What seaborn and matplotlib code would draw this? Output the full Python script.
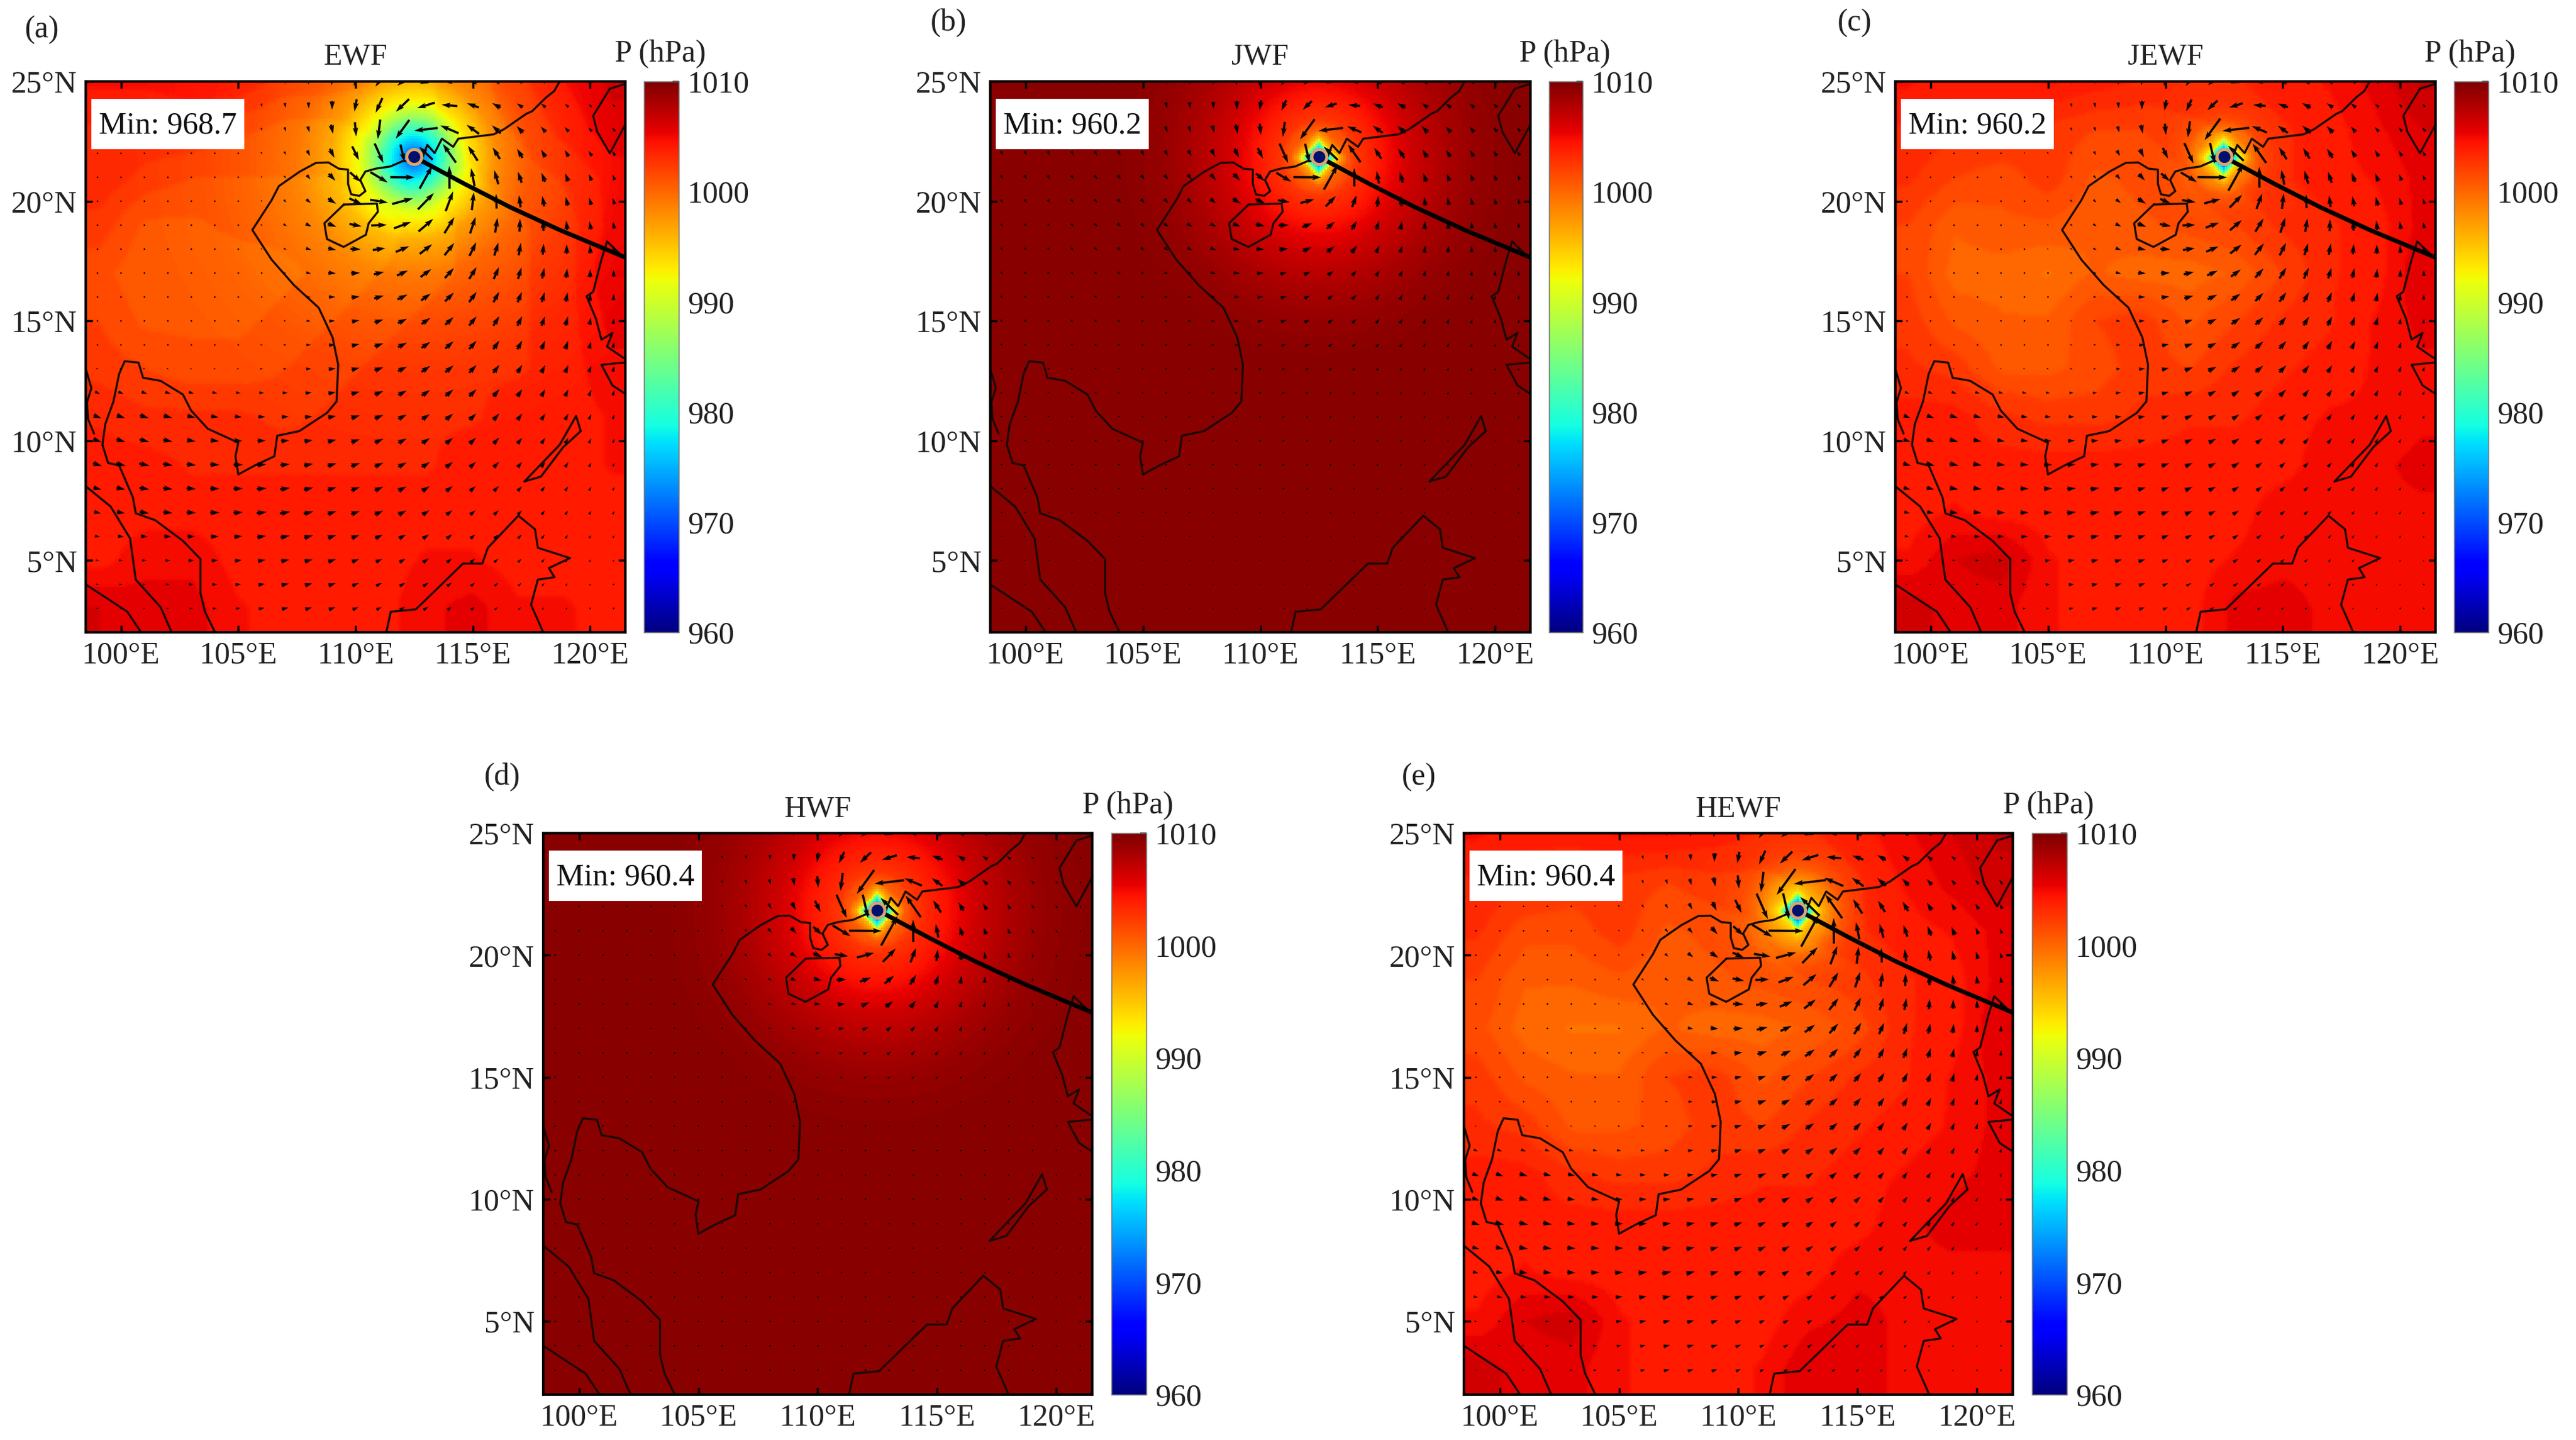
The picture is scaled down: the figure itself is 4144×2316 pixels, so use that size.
import numpy as np
import pandas as pd
import matplotlib
matplotlib.use("Agg")
import matplotlib.pyplot as plt
from matplotlib.patches import Rectangle
import seaborn as sns

# ---------------------------------------------------------------- data
PANELS = ["EWF", "JWF", "JEWF", "HWF", "HEWF"]
LETTERS = ["(a)", "(b)", "(c)", "(d)", "(e)"]
MINS = ["968.7", "960.2", "960.2", "960.4", "960.4"]
LON_TICKS = [100, 105, 110, 115, 120]
LAT_TICKS = [5, 10, 15, 20, 25]
CBAR_TICKS = [960, 970, 980, 990, 1000, 1010]
COARSE_LON = [99, 101, 103, 105, 107, 109, 111, 113, 115, 117, 119, 121]
COARSE_LAT = [25, 23, 21, 19, 17, 15, 13, 11, 9, 7, 5, 3]
CENTER = (112.5, 21.85)

P_EWF = [
    [1004.5, 1004.5, 1005, 1005, 1004, 1004, 1003.5, 1003.5, 1004, 1005, 1006, 1007],
    [1003.5, 1003.5, 1003.5, 1003, 1002.5, 1002.5, 1003, 1003.5, 1004, 1004.5, 1005.5, 1006.5],
    [1003.5, 1002.5, 1002, 1002, 1002, 1002, 1002.5, 1003, 1003.5, 1004, 1004.5, 1005.5],
    [1002.5, 1001, 1001, 1001.5, 1001.5, 1001.5, 1001.5, 1002.5, 1003, 1003.5, 1004, 1005.5],
    [1001.5, 1000.5, 1000.5, 1000.5, 1001, 1001.5, 1002, 1002.5, 1003, 1003.5, 1004, 1006],
    [1002, 1001, 1001, 1001, 1001.5, 1002, 1002.5, 1003, 1003.5, 1003.5, 1004, 1005.5],
    [1002.5, 1002, 1001.5, 1001.5, 1002, 1002.5, 1003, 1003.5, 1003.5, 1003.5, 1004, 1005],
    [1003.5, 1003, 1003, 1003, 1002.5, 1003, 1003.5, 1003.5, 1003.5, 1004, 1004, 1004.5],
    [1004, 1004, 1003.5, 1003.5, 1003.5, 1003.5, 1003.5, 1003.5, 1004, 1004, 1004, 1004.5],
    [1004, 1004, 1004, 1004, 1004, 1004, 1004, 1004, 1004, 1004, 1004, 1004],
    [1004, 1005, 1005, 1004, 1004, 1004, 1004, 1004.5, 1004.5, 1004, 1004, 1004],
    [1006, 1005.5, 1005.5, 1004.5, 1004, 1004, 1004, 1005, 1005.5, 1004.5, 1004.5, 1004],
]
P_JWF = [[1009.3] * 10 + [1009.4, 1009.5] for _ in COARSE_LAT[:2]] + \
        [[1009.3] * 11 + [1009.4] for _ in COARSE_LAT[2:6]] + \
        [[1009.3] * 12 for _ in COARSE_LAT[6:]]
P_HWF = [[1009.4] * 12 for _ in COARSE_LAT]
P_JEWF = [
    [1004.5, 1004, 1004, 1004.5, 1004, 1003.5, 1003.5, 1003.5, 1004, 1004.5, 1005.5, 1007],
    [1003.5, 1003, 1003, 1002.5, 1002, 1002, 1002.5, 1003, 1003.5, 1004, 1005, 1006],
    [1003, 1002, 1001.5, 1002.5, 1001, 1001.5, 1002, 1003, 1003.5, 1004, 1004.5, 1005.5],
    [1002, 1000.5, 1001, 1001, 1000.5, 1001, 1001.5, 1002, 1003, 1003.5, 1004, 1005.5],
    [1002, 1000, 1000, 999.5, 1000.5, 1000, 1000, 1000.5, 1002, 1003.5, 1004, 1006],
    [1002.5, 1001, 1000.5, 1000.5, 1002, 1002.5, 1001, 1002, 1003, 1003.5, 1004.5, 1005.5],
    [1003, 1002.5, 1001, 1001, 1001.5, 1002.5, 1002, 1003, 1003.5, 1004, 1004.5, 1005],
    [1004, 1004, 1003, 1002.5, 1002.5, 1003, 1003.5, 1003.5, 1004, 1004.5, 1004.5, 1005],
    [1004, 1004, 1004, 1004, 1004, 1004, 1004, 1004, 1004, 1005, 1005, 1005.5],
    [1004, 1004.5, 1004, 1004, 1004, 1004, 1004, 1004, 1005, 1005, 1005, 1005],
    [1004.5, 1006, 1006.5, 1004.5, 1004, 1004, 1004, 1004.5, 1005, 1005, 1004.5, 1004.5],
    [1006.5, 1005.5, 1005.5, 1004.5, 1004, 1004, 1004, 1005.5, 1005.5, 1005, 1004.5, 1004.5],
]
P_HEWF = [
    [1004.5, 1004, 1004, 1004.5, 1004.5, 1004, 1003.5, 1003.5, 1004, 1005, 1006, 1007],
    [1003.5, 1003, 1002.5, 1002.5, 1002, 1002.5, 1002.5, 1003, 1003.5, 1004.5, 1005.5, 1006.5],
    [1003, 1001.5, 1001.5, 1002.5, 1001, 1001.5, 1002, 1003, 1003.5, 1004, 1004.5, 1005.5],
    [1002, 1000.5, 1000.5, 1001, 1000.5, 1001, 1001.5, 1002, 1002.5, 1003.5, 1004, 1005.5],
    [1001.5, 1000, 999.5, 999.5, 1000.5, 1000, 1000, 1000.5, 1001.5, 1003.5, 1004, 1006],
    [1002.5, 1001, 1000.5, 1000.5, 1002, 1002.5, 1001, 1002, 1003, 1003.5, 1004.5, 1005.5],
    [1003, 1002.5, 1001, 1001, 1001.5, 1002.5, 1002, 1003, 1003.5, 1004, 1004.5, 1005.5],
    [1004, 1004, 1003, 1002.5, 1002.5, 1003, 1003.5, 1003.5, 1004, 1004.5, 1005, 1005.5],
    [1004, 1004, 1004, 1004, 1004, 1004, 1004, 1004, 1004, 1005, 1005.5, 1005.5],
    [1004, 1004.5, 1004, 1004, 1004, 1004, 1004, 1004, 1005, 1005, 1005, 1005],
    [1004.5, 1006, 1006.5, 1004.5, 1004, 1004, 1004, 1005, 1005.5, 1005, 1004.5, 1004.5],
    [1006.5, 1005.5, 1005.5, 1004.5, 1004, 1004, 1004.5, 1006, 1005.5, 1005, 1004.5, 1004.5],
]
PRESSURE = [P_EWF, P_JWF, P_JEWF, P_HWF, P_HEWF]

# radial pressure deficit around the storm (degrees, hPa)
R_EWF = [0, .5, 1.15, 1.75, 2.3, 3.5, 5, 7, 9, 12]
D_EWF = [34.3, 29, 23, 16, 11, 6, 3.2, 1.6, .6, 0]
R_JWF = [0, .3, .6, .68, .85, 1.2, 1.6, 2.2, 2.8, 4, 5.5, 7, 9]
D_JWF = [49.1, 37, 27, 22, 14, 9, 7, 6, 5, 3, 1.5, .5, 0]
R_JEWF = [0, .3, .6, .68, .85, 1.2, 1.6, 2.2, 3, 4]
D_JEWF = [42.8, 31, 22, 16, 9, 4, 1.5, .5, .1, 0]
R_HWF = [0, .3, .6, .68, .85, 1.2, 1.6, 2.2, 3, 4.2, 5.7, 7.2, 9.5]
D_HWF = [49, 37, 27, 22, 14, 9, 7, 6, 5, 3, 1.5, .5, 0]
R_HEWF = [0, .3, .6, .68, .85, 1.3, 1.8, 2.4, 3.2, 4.5]
D_HEWF = [42.6, 31, 22, 16, 9, 5, 2.5, 1, .3, 0]
DEFICIT_R = [R_EWF, R_JWF, R_JEWF, R_HWF, R_HEWF]
DEFICIT_D = [D_EWF, D_JWF, D_JEWF, D_HWF, D_HEWF]

# background wind arrow length (degrees on the map)
W_EWF = [
    [.1, .1, .15, .15, .2, .25, .3, .3, .25, .2, .15, .1],
    [.05, .05, .05, .1, .15, .2, .3, .35, .3, .3, .25, .2],
    [.03, .03, .05, .05, .1, .2, .3, .4, .4, .4, .35, .25],
    [.03, .03, .03, .05, .15, .3, .4, .5, .55, .5, .4, .3],
    [.03, .03, .05, .05, .1, .3, .4, .5, .55, .5, .4, .3],
    [.03, .03, .05, .05, .1, .25, .4, .45, .5, .45, .4, .25],
    [.1, .1, .1, .1, .15, .3, .4, .45, .45, .4, .35, .25],
    [.35, .4, .35, .3, .3, .35, .4, .4, .4, .35, .3, .2],
    [.4, .45, .4, .4, .4, .4, .4, .4, .35, .3, .25, .15],
    [.3, .4, .4, .4, .45, .4, .4, .35, .3, .25, .2, .15],
    [.15, .2, .25, .3, .35, .35, .3, .3, .25, .2, .15, .1],
    [.1, .1, .15, .2, .3, .3, .25, .25, .2, .15, .1, .05],
]
W_JWF = [
    [.2, .2, .2, .2, .2, .2, .2, .2, .2, .2, .2, .2],
    [.2, .2, .2, .2, .2, .2, .2, .2, .25, .25, .25, .2],
    [.2, .2, .2, .2, .2, .2, .2, .2, .25, .25, .25, .2],
    [.15, .15, .2, .2, .2, .2, .2, .2, .2, .25, .25, .2],
    [.15, .15, .15, .15, .15, .2, .2, .2, .2, .2, .2, .2],
    [.15, .15, .15, .15, .15, .15, .2, .2, .2, .2, .2, .15],
    [.12, .12, .12, .12, .12, .15, .15, .15, .15, .15, .15, .12],
    [.12, .12, .12, .12, .12, .12, .12, .12, .12, .12, .12, .1],
    [.12, .12, .12, .12, .12, .12, .12, .12, .12, .12, .1, .1],
    [.1, .1, .1, .1, .1, .1, .1, .1, .1, .1, .1, .1],
    [.08, .08, .08, .08, .08, .08, .08, .08, .08, .08, .08, .08],
    [.08, .08, .08, .08, .08, .08, .08, .08, .08, .08, .08, .08],
]
W_JEWF = [
    [.1, .1, .12, .12, .15, .2, .25, .25, .2, .2, .15, .1],
    [.05, .05, .05, .08, .1, .15, .25, .3, .25, .25, .2, .2],
    [.03, .03, .05, .05, .08, .15, .25, .3, .35, .35, .3, .2],
    [.03, .03, .03, .05, .1, .25, .3, .4, .45, .4, .35, .25],
    [.03, .03, .05, .05, .1, .25, .35, .4, .45, .4, .35, .25],
    [.03, .03, .05, .05, .1, .2, .3, .4, .4, .4, .35, .2],
    [.08, .08, .08, .1, .12, .25, .35, .4, .4, .35, .3, .2],
    [.3, .35, .3, .25, .25, .3, .35, .35, .35, .3, .25, .15],
    [.35, .4, .35, .35, .35, .35, .35, .35, .3, .25, .2, .12],
    [.25, .35, .35, .35, .4, .35, .35, .3, .25, .2, .15, .12],
    [.12, .15, .2, .25, .3, .3, .25, .25, .2, .15, .12, .08],
    [.08, .08, .12, .15, .25, .25, .2, .2, .15, .12, .08, .05],
]
W_HWF = [
    [.05, .05, .05, .05, .08, .1, .15, .2, .2, .15, .1, .08],
    [.03, .03, .03, .05, .08, .1, .15, .2, .2, .15, .12, .1],
    [.03, .03, .03, .03, .05, .1, .15, .2, .2, .15, .12, .08],
    [.03, .03, .03, .03, .05, .1, .15, .2, .2, .15, .1, .08],
    [.03, .03, .03, .03, .05, .08, .12, .15, .15, .12, .1, .08],
    [.03, .03, .03, .03, .03, .05, .08, .1, .1, .08, .08, .05],
    [.02, .02, .02, .02, .03, .03, .05, .06, .06, .05, .05, .03],
    [.02, .02, .02, .02, .02, .02, .03, .03, .03, .03, .03, .02],
    [.02, .02, .02, .02, .02, .02, .02, .02, .02, .02, .02, .02],
    [.02, .02, .02, .02, .02, .02, .02, .02, .02, .02, .02, .02],
    [.02, .02, .02, .02, .02, .02, .02, .02, .02, .02, .02, .02],
    [.02, .02, .02, .02, .02, .02, .02, .02, .02, .02, .02, .02],
]
WIND = [W_EWF, W_JWF, W_JEWF, W_HWF, W_JEWF]

WIND_R = [0, .5, 1, 1.5, 2, 3, 4, 5, 7, 10]
WIND_STORM_EWF = [0, .4, .7, .6, .5, .3, .15, .05, 0, 0]
WIND_STORM_JWF = [0, .6, 1.0, .7, .35, .25, .2, .1, .05, 0]
WIND_STORM_HWF = [0, .8, 1.2, .9, .5, .3, .2, .12, .05, 0]
WIND_STORM = [WIND_STORM_EWF, WIND_STORM_JWF, WIND_STORM_JWF, WIND_STORM_HWF, WIND_STORM_HWF]

# coastlines (lon, lat)
COAST_MAIN_LON = [118.7, 118.47, 118.12, 117.53, 117.28, 116.32, 115.88, 114.38, 114.16, 113.68, 113.37, 113.06,
    112.89, 112.8, 112.0, 111.48, 110.86, 110.42, 110.2, 110.42, 110.16, 109.81, 109.68, 109.68, 109.28, 108.84,
    108.31, 107.61, 106.73, 106.42, 105.6, 106.42, 107.37, 108.43, 109.02, 109.26, 109.19, 108.78, 107.6, 106.66,
    106.54, 105.71, 105.0, 104.88, 105.0, 103.7, 102.99, 102.64, 101.69, 100.94, 100.75, 100.16, 99.92, 99.68,
    99.33, 99.21, 99.45, 99.92, 100.51, 100.63, 101.46, 102.64, 103.39, 103.39, 103.58, 104.01]
COAST_MAIN_LAT = [25.0, 24.6, 24.33, 23.76, 23.65, 23.0, 22.79, 22.61, 22.27, 22.61, 22.01, 22.35,
    21.92, 21.71, 21.67, 21.45, 21.36, 21.24, 20.89, 20.42, 20.22, 20.29, 20.72, 21.32, 21.36, 21.62,
    21.6, 21.23, 20.63, 20.04, 18.8, 17.56, 16.5, 15.55, 14.31, 13.17, 11.64, 11.16, 10.4, 10.21,
    9.35, 8.97, 8.59, 9.35, 9.92, 10.5, 11.26, 11.93, 12.5, 12.63, 13.26, 13.32, 12.79, 11.64,
    10.69, 9.83, 9.07, 8.97, 7.63, 6.97, 6.68, 5.82, 5.06, 3.63, 2.86, 2.0]
SUMATRA_N_LON = [98.5, 99.56, 100.39, 100.63, 101.69, 102.16]
SUMATRA_N_LAT = [8.1, 7.25, 5.92, 4.2, 3.05, 2.0]
SUMATRA_S_LON = [98.5, 100.27, 100.86]
SUMATRA_S_LAT = [4.0, 2.86, 2.0]
BURMA_LON = [98.5, 98.74, 98.55, 98.6, 98.85]
BURMA_LAT = [13.0, 12.2, 11.6, 10.9, 10.3]
HAINAN_LON = [109.5, 110.91, 110.95, 110.56, 110.44, 109.49, 108.78, 108.67, 109.5]
HAINAN_LAT = [19.86, 19.9, 19.56, 19.08, 18.6, 18.09, 18.42, 19.08, 19.86]
BORNEO_LON = [111.31, 111.5, 112.57, 114.58, 115.4, 115.64, 116.94, 117.65, 117.77, 119.14, 118.24, 118.48, 117.77, 117.48, 118.0]
BORNEO_LAT = [2.0, 2.86, 2.96, 4.87, 4.87, 5.53, 6.87, 6.3, 5.53, 5.1, 4.68, 4.3, 4.2, 3.15, 2.0]
PALAWAN_LON = [117.2, 117.9, 118.85, 119.6, 119.4, 118.7, 117.2]
PALAWAN_LAT = [8.3, 8.5, 9.73, 10.4, 11.03, 9.83, 8.3]
LUZON_LON = [121.43, 120.72, 120.48, 120.13, 119.85, 120.25, 120.48, 120.95, 120.72, 121.43]
LUZON_LAT = [17.65, 18.32, 17.56, 16.22, 16.03, 15.08, 14.22, 14.5, 13.93, 13.45]
MINDORO_LON = [121.43, 120.48, 120.95, 121.43]
MINDORO_LAT = [13.26, 13.17, 12.31, 12.0]
TAIWAN_LON = [121.5, 120.84, 120.13, 120.3, 120.84, 121.5]
TAIWAN_LAT = [24.9, 24.7, 23.57, 22.9, 22.0, 23.2]
COASTS = [(COAST_MAIN_LON, COAST_MAIN_LAT), (SUMATRA_N_LON, SUMATRA_N_LAT), (SUMATRA_S_LON, SUMATRA_S_LAT),
          (BURMA_LON, BURMA_LAT), (HAINAN_LON, HAINAN_LAT), (BORNEO_LON, BORNEO_LAT), (PALAWAN_LON, PALAWAN_LAT),
          (LUZON_LON, LUZON_LAT), (MINDORO_LON, MINDORO_LAT), (TAIWAN_LON, TAIWAN_LAT)]
TRACK_LON = [112.5, 114.65, 116.59, 118.7, 121.5]
TRACK_LAT = [21.85, 20.72, 19.75, 18.8, 17.65]

# ---------------------------------------------------------------- layout
W, H = 4144, 2316
LON0, LON1, LAT0, LAT1 = 98.5, 121.5, 2.0, 25.0
# left, right, top, bottom, colorbar left, colorbar right, letter x, letter y
LAYOUT = [
    (138, 1006, 131, 1017, 1036, 1092, 67, 48),
    (1593, 2462, 131, 1017, 2492, 2546, 1526, 37),
    (3049, 3918, 131, 1017, 3948, 4003, 2983, 37),
    (874, 1757, 1340, 2243, 1788, 1844, 808, 1250),
    (2355, 3238, 1340, 2243, 3269, 3325, 2283, 1250),
]

sns.set_theme(style="white")
plt.rcParams["font.family"] = ["Liberation Serif", "DejaVu Serif"]
FS = 36


def rect(l, r, t, b):
    return [l / W, 1 - b / H, (r - l) / W, (b - t) / H]


def upsample(grid, lons, lats):
    g = np.asarray(grid, float)
    lat_inc = np.asarray(COARSE_LAT[::-1], float)
    by_lon = np.array([np.interp(lats, lat_inc, g[::-1, j]) for j in range(g.shape[1])])
    return np.array([np.interp(lons, COARSE_LON, by_lon[:, k]) for k in range(len(lats))])


def smooth(a, n=2):
    for _ in range(n):
        p = np.pad(a, 1, mode="edge")
        a = (p[:-2, 1:-1] + p[2:, 1:-1] + p[1:-1, :-2] + p[1:-1, 2:] + 2 * a) / 6
    return a


fig = plt.figure(figsize=(W / 100, H / 100), dpi=100, facecolor="white")
lons = np.arange(LON0, LON1 + 1e-6, 0.1)
lats = np.arange(LAT1, LAT0 - 1e-6, -0.1)
LON2, LAT2 = np.meshgrid(lons, lats)
q_lon, q_lat = np.meshgrid(np.arange(99, 122), np.arange(3, 26))

for i, name in enumerate(PANELS):
    l, r, t, b, cl, cr, lx, ly = LAYOUT[i]
    ax = fig.add_axes(rect(l, r, t, b))
    cax = fig.add_axes(rect(cl, cr, t, b))

    dx, dy = LON2 - CENTER[0], LAT2 - CENTER[1]
    r2 = np.hypot(dx, dy)
    if i == 0:
        dist = r2
    else:
        w = np.clip((r2 - 0.6) / 0.7, 0, 1)
        dist = w * r2 + (1 - w) * (np.abs(dx) + np.abs(dy))
    background = smooth(np.round(upsample(PRESSURE[i], lons, lats) / 0.8) * 0.8)
    field = background - np.interp(dist, DEFICIT_R[i], DEFICIT_D[i])

    sns.heatmap(field, ax=ax, cbar_ax=cax, cmap="jet", vmin=960, vmax=1010,
                xticklabels=False, yticklabels=False, rasterized=True,
                cbar_kws={"ticks": CBAR_TICKS})
    cax.tick_params(labelsize=FS, length=7, width=1.5, direction="in", right=True, pad=10, colors="#222222")
    for sp in cax.spines.values():
        sp.set_visible(True)
        sp.set_linewidth(1)
        sp.set_color("#777777")

    geo = fig.add_axes(rect(l, r, t, b), facecolor="none")
    for cx, cy in COASTS:
        sns.lineplot(x=cx, y=cy, sort=False, estimator=None, ax=geo, color="#1c0a05", lw=2.4, legend=False)

    mag = upsample(WIND[i], q_lon[0].astype(float), q_lat[:, 0].astype(float))
    qx, qy = q_lon - CENTER[0], q_lat - CENTER[1]
    rq = np.hypot(qx, qy)
    speed = mag + np.interp(rq, WIND_R, WIND_STORM[i])
    ang = np.arctan2(qy, qx) + np.deg2rad(90 + 30)
    geo.quiver(q_lon, q_lat, speed * np.cos(ang), speed * np.sin(ang), angles="xy", scale_units="xy", scale=1,
               pivot="mid", units="dots", width=3.6, headwidth=2.5, headlength=4, headaxislength=3.5,
               minshaft=1, minlength=0.8, color="#0d0505", zorder=3)

    sns.lineplot(x=TRACK_LON, y=TRACK_LAT, sort=False, estimator=None, ax=geo, color="black", lw=5,
                 legend=False, zorder=4)
    sns.scatterplot(x=[CENTER[0]], y=[CENTER[1]], ax=geo, s=300, color="#00106e", edgecolor="#dba56c",
                    linewidth=3.5, zorder=5, legend=False)

    geo.set_xlim(LON0, LON1)
    geo.set_ylim(LAT0, LAT1)
    geo.set_xticks(LON_TICKS)
    geo.set_yticks(LAT_TICKS)
    geo.set_xticklabels([f"{v}°E" for v in LON_TICKS])
    geo.set_yticklabels([f"{v}°N" for v in LAT_TICKS])
    geo.set_xlabel("")
    geo.set_ylabel("")
    geo.tick_params(labelsize=FS, direction="in", length=8, width=2.5, top=True, right=True, bottom=True, left=True,
                    color="black", labelcolor="#222222", pad=10)
    for sp in geo.spines.values():
        sp.set_visible(True)
        sp.set_linewidth(3)
        sp.set_color("black")

    geo.add_patch(Rectangle((l + 9, H - t - 109), 246, 81, transform=None, facecolor="white", edgecolor="none", zorder=6))
    geo.annotate(f"Min: {MINS[i]}", xy=((l + 9 + 123) / W, 1 - (t + 71) / H), xycoords="figure fraction",
                 ha="center", va="center", fontsize=FS, color="#111111", zorder=7)

    fig.text((l + r) / 2 / W, 1 - (t - 39) / H, name, ha="center", va="center", fontsize=FS - 1, color="#222222")
    fig.text((cl + cr - 4) / 2 / W, 1 - (t - 44) / H, "P (hPa)", ha="center", va="center", fontsize=FS, color="#222222")
    fig.text(lx / W, 1 - ly / H, LETTERS[i], ha="center", va="center", fontsize=FS, color="#222222")

fig.savefig("out.png", dpi=100, facecolor="white")
